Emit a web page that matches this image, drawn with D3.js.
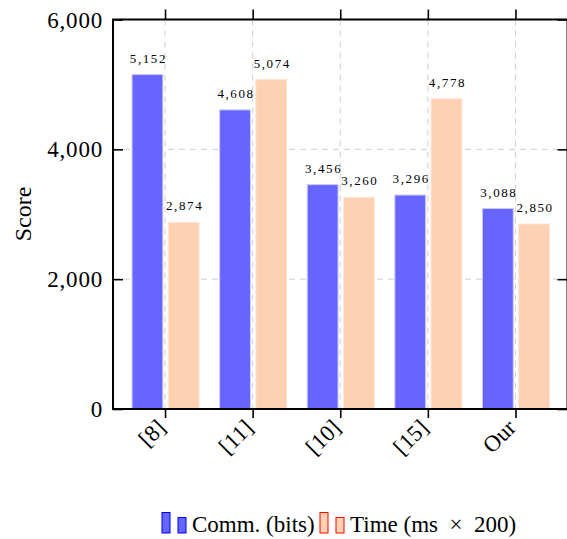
<!DOCTYPE html>
<html>
<head>
<meta charset="utf-8">
<script src="https://cdn.jsdelivr.net/npm/d3@7"></script>
<style>
  body { margin: 0; background: #fff; }
  text { font-family: "Liberation Serif", "Times New Roman", serif; fill: #000; }
</style>
</head>
<body>
<div id="chart"></div>
<script>
// data
var categories = ["[8]", "[11]", "[10]", "[15]", "Our"];
var commBits = [5152, 4608, 3456, 3296, 3088];
var timeMs = [2874, 5074, 3260, 4778, 2850];
var yTicks = [0, 2000, 4000, 6000];
var seriesNames = ["Comm. (bits)", "Time (ms\u2002\u00d7\u2002200)"];

var svgWidth = 567;
var svgHeight = 539;

var plot = { left: 113, right: 567.5, top: 19.5, bottom: 409 };

var svg = d3.select("#chart")
  .append("svg")
  .attr("width", svgWidth)
  .attr("height", svgHeight);

var xScale = d3.scalePoint()
  .domain(categories)
  .range([plot.left, plot.right])
  .padding(0.594);

var yScale = d3.scaleLinear()
  .domain([0, 6000])
  .range([plot.bottom, plot.top]);

// offsets of the two bars around each category tick
var subScale = d3.scaleBand()
  .domain([0, 1])
  .range([-33, 34])
  .paddingInner(0.15);

var fills = ["#6666ff", "#ffd1b3"];
var edges = ["#c9c9ff", "#ffe4d3"];
var legendStrokes = ["#0000ff", "#ff0000"];

// grid
var grid = svg.append("g").attr("stroke", "#cfcfcf").attr("stroke-width", 1).attr("stroke-dasharray", "6,5");
grid.selectAll("line.h")
  .data(yTicks.slice(1, -1))
  .enter()
  .append("line")
  .attr("x1", plot.left).attr("x2", plot.right)
  .attr("y1", d => yScale(d)).attr("y2", d => yScale(d));
grid.selectAll("line.v")
  .data(categories)
  .enter()
  .append("line")
  .attr("x1", d => xScale(d)).attr("x2", d => xScale(d))
  .attr("y1", plot.top).attr("y2", plot.bottom);

// bars
var series = [commBits, timeMs];
series.forEach(function (values, s) {
  var g = svg.append("g");
  g.selectAll("rect")
    .data(values)
    .enter()
    .append("rect")
    .attr("x", (d, i) => xScale(categories[i]) + subScale(s))
    .attr("y", d => yScale(d))
    .attr("width", subScale.bandwidth())
    .attr("height", d => plot.bottom - yScale(d))
    .attr("fill", fills[s])
    .attr("stroke", edges[s])
    .attr("stroke-width", 1);

  g.selectAll("text")
    .data(values)
    .enter()
    .append("text")
    .attr("x", (d, i) => xScale(categories[i]) + subScale(s) + subScale.bandwidth() / 2 + 1)
    .attr("y", d => yScale(d) - 12)
    .attr("text-anchor", "middle")
    .attr("font-size", 13)
    .attr("letter-spacing", "1.6px")
    .attr("fill", "#222")
    .text(d => d3.format(",")(d));
});

// axes
var leftAxis = d3.axisLeft(yScale).tickValues(yTicks).tickFormat(d3.format(","))
  .tickSizeInner(-10).tickSizeOuter(0).tickPadding(10);
var yAxisG = svg.append("g")
  .attr("transform", `translate(${plot.left},0)`)
  .call(leftAxis);
yAxisG.select(".domain").remove();
yAxisG.selectAll("line").attr("stroke", "#000").attr("stroke-width", 1.6);
yAxisG.selectAll("text")
  .attr("font-size", 23)
  .attr("letter-spacing", "0.8px")
  .attr("font-family", "Liberation Serif, serif")
  .attr("dy", "0.33em");

var rightAxis = d3.axisRight(yScale).tickValues(yTicks).tickFormat("")
  .tickSizeInner(-10).tickSizeOuter(0);
var yAxisR = svg.append("g")
  .attr("transform", `translate(${plot.right},0)`)
  .call(rightAxis);
yAxisR.select(".domain").remove();
yAxisR.selectAll("line").attr("stroke", "#000").attr("stroke-width", 1.6);

var bottomAxis = d3.axisBottom(xScale).tickSizeInner(9).tickSizeOuter(0).tickPadding(4);
var xAxisG = svg.append("g")
  .attr("transform", `translate(0,${plot.bottom})`)
  .call(bottomAxis);
xAxisG.select(".domain").remove();
xAxisG.selectAll("line").attr("stroke", "#000").attr("stroke-width", 1.6);
xAxisG.selectAll("text")
  .attr("font-size", 23)
  .attr("font-family", "Liberation Serif, serif")
  .attr("text-anchor", "end")
  .attr("dy", "0.35em")
  .attr("transform", "translate(-3,13) rotate(-45)")
  .attr("y", 0)
  .attr("x", -2);

var topAxis = d3.axisTop(xScale).tickFormat("").tickSizeInner(10).tickSizeOuter(0);
var xAxisT = svg.append("g")
  .attr("transform", `translate(0,${plot.top})`)
  .call(topAxis);
xAxisT.select(".domain").remove();
xAxisT.selectAll("line").attr("stroke", "#000").attr("stroke-width", 1.6);

// frame
svg.append("rect")
  .attr("x", plot.left).attr("y", plot.top)
  .attr("width", plot.right - plot.left)
  .attr("height", plot.bottom - plot.top)
  .attr("fill", "none")
  .attr("stroke", "#000")
  .attr("stroke-width", 2);

// y label
svg.append("text")
  .attr("transform", "translate(31,214) rotate(-90)")
  .attr("text-anchor", "middle")
  .attr("font-size", 24)
  .text("Score");

// legend
var legend = svg.append("g");
var legendX = [162, 320];
var textX = [192, 350];
seriesNames.forEach(function (name, s) {
  legend.append("rect")
    .attr("x", legendX[s]).attr("y", 512.5).attr("width", 8).attr("height", 20.5)
    .attr("fill", fills[s]).attr("stroke", legendStrokes[s]).attr("stroke-width", 1);
  legend.append("rect")
    .attr("x", legendX[s] + 16).attr("y", 517.5).attr("width", 8).attr("height", 15.5)
    .attr("fill", fills[s]).attr("stroke", legendStrokes[s]).attr("stroke-width", 1);
  legend.append("text")
    .attr("x", textX[s]).attr("y", 531.5)
    .attr("font-size", 23)
    .text(name);
});
</script>
</body>
</html>
